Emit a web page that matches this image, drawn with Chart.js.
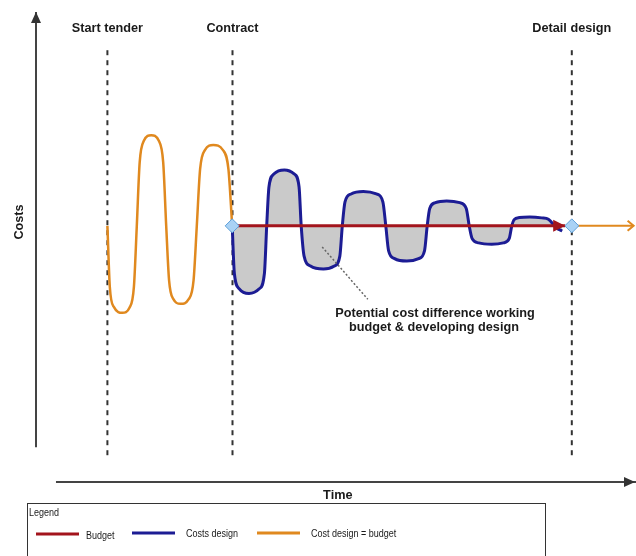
<!DOCTYPE html>
<html>
<head>
<meta charset="utf-8">
<script src="https://cdn.jsdelivr.net/npm/chart.js@4"></script>
<style>
  html, body { margin: 0; padding: 0; background: #fff; }
  #wrap { width: 636px; height: 556px; }
</style>
</head>
<body>
<div id="wrap"><canvas id="chart" width="636" height="556"></canvas></div>
<script>
// time axis runs 0..100, cost axis 0..100 (conceptual units)
const milestoneLabels = ["Start tender", "Contract", "Detail design"];
const milestoneTimes = [11.9, 32.75, 89.3];
const budgetLevel = 54.5;

// orange: cost design = budget, during tender
const tenderTime = [11.9, 12.3, 13.0, 14.4, 15.6, 16.32, 16.8, 17.28, 18.0, 19.2, 20.45, 21.2, 21.7,
  22.18, 22.9, 24.1, 25.45, 26.26, 26.8, 27.35, 28.18, 29.55, 31.13, 32.07, 32.7];
const tenderCost = [54.5, 41.55, 37.2, 36.0, 37.11, 41.55, 54.5, 68.0, 72.64, 73.8, 72.64, 68.0, 54.5,
  42.9, 38.9, 37.9, 38.9, 42.9, 54.5, 66.55, 70.67, 71.7, 70.67, 66.55, 54.5];

// blue: costs design after contract
const designTime = [32.7, 33.06, 33.88, 35.5, 37.21, 38.07, 38.45, 38.83, 39.69, 41.4, 43.02, 43.84, 44.2,
  44.68, 45.75, 47.9, 49.73, 50.64, 51.05, 51.5, 52.52, 54.55, 56.73, 57.81, 58.3, 58.76, 59.77, 61.8,
  63.77, 64.76, 65.2, 65.62, 66.57, 68.45, 70.63, 71.71, 72.2, 72.69, 73.78, 75.95, 77.89, 78.86, 79.3,
  79.69, 80.56, 82.3, 84.3, 85.4, 86.8, 87.7];
const designCost = [54.5, 44.4, 41.1, 40.1, 41.1, 44.4, 54.5, 62.83, 65.57, 66.4, 65.57, 62.83, 54.5,
  48.06, 45.94, 45.3, 45.94, 48.06, 54.5, 59.61, 61.29, 61.8, 61.29, 59.61, 54.5, 49.25, 47.52, 47.0,
  47.52, 49.25, 54.5, 58.21, 59.43, 59.8, 59.43, 58.21, 54.5, 51.77, 50.87, 50.6, 50.87, 51.77, 54.5,
  55.83, 56.27, 56.4, 56.2, 55.9, 54.0, 53.4];

// red budget line and orange continuation after detail design
const budgetTime = [32.7, 88.2];
const afterTime = [89.3, 99.6];
const diamondTime = [32.7, 89.3];

// axes and callout leader
const axisTimeRange = [3.33, 100];
const axisCostRange = [7.4, 100];
const milestoneCostRange = [5.7, 91.9];
const leaderTime = [47.7, 55.3];
const leaderCost = [50.0, 38.9];

const legendItems = [
  { label: "Budget", color: "#a3141c" },
  { label: "Costs design", color: "#1c1c94" },
  { label: "Cost design = budget", color: "#e0891f" },
];

const pts = (xs, ys) => xs.map((x, i) => ({ x: x, y: Array.isArray(ys) ? ys[i] : ys }));

// first dataset ends up on top
const datasets = [
  {
    data: pts(diamondTime, budgetLevel),
    showLine: false,
    pointStyle: "rectRot",
    pointRadius: 7,
    backgroundColor: "#a9d2f5",
    borderColor: "#5e9fd8",
    borderWidth: 1,
  },
  {
    data: pts(leaderTime, leaderCost),
    borderColor: "#666",
    borderWidth: 1.5,
    borderDash: [2, 2],
    pointRadius: 0,
  },
  {
    data: pts(budgetTime, budgetLevel),
    borderColor: "#a3141c",
    borderWidth: 3,
    pointRadius: 0,
  },
  {
    data: pts(designTime, designCost),
    borderColor: "#1c1c94",
    borderWidth: 3,
    pointRadius: 0,
    cubicInterpolationMode: "monotone",
    fill: { value: budgetLevel },
    backgroundColor: "rgba(196,196,196,0.9)",
  },
  {
    data: pts(tenderTime, tenderCost),
    borderColor: "#e0891f",
    borderWidth: 2.5,
    pointRadius: 0,
    cubicInterpolationMode: "monotone",
  },
  {
    data: pts(afterTime, budgetLevel),
    borderColor: "#e0891f",
    borderWidth: 2,
    pointRadius: 0,
  },
];

milestoneTimes.forEach((t) => {
  datasets.push({
    data: pts([t, t], milestoneCostRange),
    borderColor: "#333",
    borderWidth: 2,
    borderDash: [5, 5],
    pointRadius: 0,
  });
});

datasets.push({
  data: pts([0, 0], axisCostRange),
  borderColor: "#444",
  borderWidth: 2,
  pointRadius: 0,
});
datasets.push({
  data: pts(axisTimeRange, 0),
  borderColor: "#444",
  borderWidth: 2,
  pointRadius: 0,
});
datasets.forEach((d) => { d.clip = false; });

const bold = 'bold 12.7px "Liberation Sans", Arial, sans-serif';

// narrow-looking small text for the legend box
function narrowText(ctx, text, x, y) {
  ctx.save();
  ctx.translate(x, y);
  ctx.scale(0.9, 1);
  ctx.fillText(text, 0, 0);
  ctx.restore();
}

const decorations = {
  id: "decorations",
  afterDraw(chart) {
    const { ctx } = chart;
    const xs = chart.scales.x;
    const ys = chart.scales.y;
    const X = (v) => xs.getPixelForValue(v);
    const Y = (v) => ys.getPixelForValue(v);
    ctx.save();

    // axis arrowheads
    ctx.fillStyle = "#333";
    const ax = X(0), ayTop = Y(axisCostRange[1]);
    ctx.beginPath();
    ctx.moveTo(ax, ayTop);
    ctx.lineTo(ax - 5, ayTop + 11);
    ctx.lineTo(ax + 5, ayTop + 11);
    ctx.closePath();
    ctx.fill();
    const bx = X(axisTimeRange[1]) - 1, by = Y(0);
    ctx.beginPath();
    ctx.moveTo(bx, by);
    ctx.lineTo(bx - 11, by - 5);
    ctx.lineTo(bx - 11, by + 5);
    ctx.closePath();
    ctx.fill();

    // budget arrowhead
    const rx = X(budgetTime[1]), ry = Y(budgetLevel);
    ctx.fillStyle = "#a3141c";
    ctx.beginPath();
    ctx.moveTo(rx, ry);
    ctx.lineTo(rx - 12, ry - 6);
    ctx.lineTo(rx - 12, ry + 6);
    ctx.closePath();
    ctx.fill();

    // orange open arrow at the end
    const ox = X(afterTime[1]);
    ctx.strokeStyle = "#e0891f";
    ctx.lineWidth = 2;
    ctx.beginPath();
    ctx.moveTo(ox - 6, ry - 5);
    ctx.lineTo(ox, ry);
    ctx.lineTo(ox - 6, ry + 5);
    ctx.stroke();

    // milestone labels
    ctx.fillStyle = "#1a1a1a";
    ctx.font = bold;
    ctx.textAlign = "center";
    ctx.textBaseline = "middle";
    milestoneLabels.forEach((lab, i) => {
      ctx.fillText(lab, X(milestoneTimes[i]), 28);
    });

    // axis titles
    ctx.fillText("Time", X(50.3), 495);
    ctx.save();
    ctx.translate(19, 222);
    ctx.rotate(-Math.PI / 2);
    ctx.fillText("Costs", 0, 0);
    ctx.restore();

    // callout text
    ctx.fillText("Potential cost difference working", 435, 313);
    ctx.fillText("budget & developing design", 434, 327);

    // legend box
    ctx.strokeStyle = "#333";
    ctx.lineWidth = 1;
    ctx.strokeRect(27.5, 503.5, 518, 60);
    ctx.font = '10px "Liberation Sans", Arial, sans-serif';
    ctx.textAlign = "left";
    narrowText(ctx, "Legend", 29, 513);
    const lx = [36, 132, 257];
    const tx = [86, 186, 311];
    legendItems.forEach((it, i) => {
      ctx.strokeStyle = it.color;
      ctx.lineWidth = 3;
      ctx.beginPath();
      ctx.moveTo(lx[i], i === 0 ? 534 : 533);
      ctx.lineTo(lx[i] + 43, i === 0 ? 534 : 533);
      ctx.stroke();
      ctx.fillStyle = "#1a1a1a";
      narrowText(ctx, it.label, tx[i], i === 0 ? 536.5 : 534);
    });

    ctx.restore();
  },
};

new Chart(document.getElementById("chart"), {
  type: "line",
  data: { datasets: datasets },
  options: {
    responsive: false,
    animation: false,
    layout: { autoPadding: false, padding: { left: 36, right: 0, top: 12, bottom: 74 } },
    scales: {
      x: { type: "linear", min: 0, max: 100, display: false },
      y: { type: "linear", min: 0, max: 100, display: false },
    },
    plugins: {
      legend: { display: false },
      tooltip: { enabled: false },
    },
  },
  plugins: [decorations],
});
</script>
</body>
</html>
